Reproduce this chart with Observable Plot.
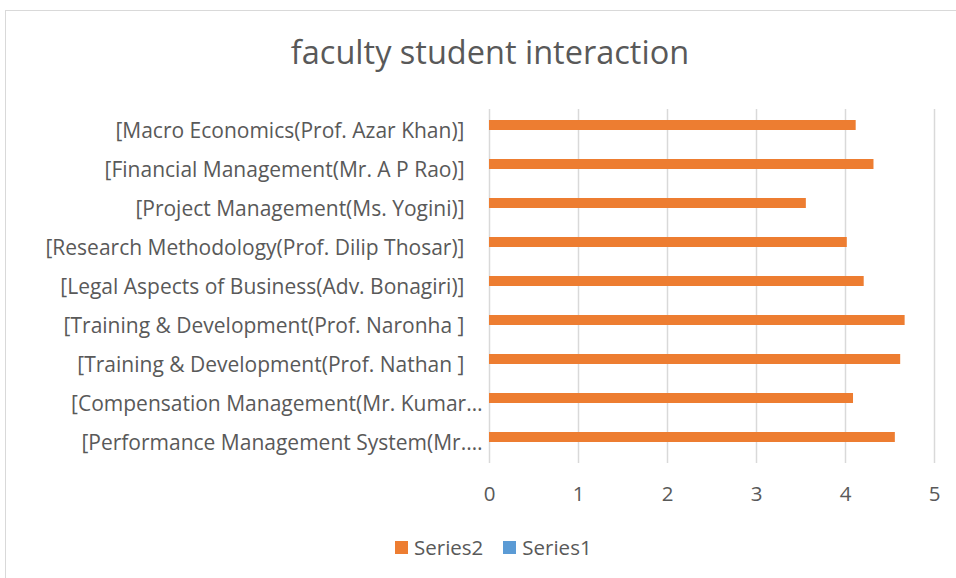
<!DOCTYPE html>
<html>
<head>
<meta charset="utf-8">
<script src="https://cdn.jsdelivr.net/npm/d3@7"></script>
<script src="https://cdn.jsdelivr.net/npm/@observablehq/plot@0.6"></script>
<style>
  html, body { margin: 0; padding: 0; background: #fff; overflow: hidden; }
  #wrap { position: relative; width: 956px; height: 578px; font-family: "Open Sans", Lato, sans-serif; color: #595959; }
  #frame { position: absolute; left: 5px; top: 10px; width: 1000px; height: 600px; border: 1.5px solid #d9d9d9; box-sizing: border-box; }
  #title { position: absolute; left: 0; width: 980px; top: 32px; text-align: center; font-size: 32.5px; line-height: 40px; }
  #chart { position: absolute; left: 0; top: 0; }
  #legend { position: absolute; left: 395px; top: 535px; font-size: 20.5px; line-height: 24px; display: flex; align-items: center; }
  .sw { display: inline-block; width: 13px; height: 13px; margin-right: 6px; }
  .item { display: flex; align-items: center; margin-right: 20px; }
</style>
</head>
<body>
<div id="wrap">
  <div id="frame"></div>
  <div id="title">faculty student interaction</div>
  <div id="chart"></div>
  <div id="legend"></div>
</div>
<script>
// Categories, top to bottom as shown
const categories = [
  "[Macro Economics(Prof. Azar Khan)]",
  "[Financial Management(Mr. A P Rao)]",
  "[Project Management(Ms. Yogini)]",
  "[Research Methodology(Prof. Dilip Thosar)]",
  "[Legal Aspects of Business(Adv. Bonagiri)]",
  "[Training & Development(Prof. Naronha ]",
  "[Training & Development(Prof. Nathan ]",
  "[Compensation Management(Mr. Kumar…",
  "[Performance Management System(Mr.…"
];
const series2 = [4.12, 4.32, 3.56, 4.02, 4.21, 4.67, 4.62, 4.09, 4.56];
const series1 = [0, 0, 0, 0, 0, 0, 0, 0, 0];
const xTicks = [0, 1, 2, 3, 4, 5];
const seriesNames = ["Series2", "Series1"];
const seriesColors = ["#ED7D31", "#5B9BD5"];

const rows = categories.map((c, i) => ({category: c, series2: series2[i], series1: series1[i]}));
const truncated = rows.filter(d => d.category.endsWith("…"));
const full = rows.filter(d => !d.category.endsWith("…"));

const chart = Plot.plot({
  width: 956,
  height: 520,
  marginTop: 109,
  marginBottom: 57,
  marginLeft: 489,
  marginRight: 22,
  style: {fontFamily: "'Open Sans', Lato, sans-serif", fontSize: "20px", color: "#595959", background: "transparent"},
  x: {domain: [0, 5], ticks: xTicks},
  y: {domain: categories, padding: 0, axis: null},
  marks: [
    Plot.gridX(xTicks, {stroke: "#d9d9d9", strokeOpacity: 1, strokeWidth: 1.5}),
    Plot.axisX({ticks: xTicks, tickFormat: d3.format("d"), tickSize: 0, tickPadding: 23, label: null, fontSize: 20.5}),
    Plot.barX(rows, {x: "series2", y: "category", fill: seriesColors[0], insetTop: 9, insetBottom: 20}),
    Plot.barX(rows, {x: "series1", y: "category", fill: seriesColors[1], insetTop: 19, insetBottom: 10}),
    Plot.text(full, {y: "category", text: "category", frameAnchor: "left", textAnchor: "end", dx: -25, fontSize: 21, fill: "#595959"}),
    Plot.text(truncated, {y: "category", text: "category", frameAnchor: "left", textAnchor: "end", dx: -7, fontSize: 21, fill: "#595959"})
  ]
});
document.getElementById("chart").appendChild(chart);

const legend = document.getElementById("legend");
seriesNames.forEach((name, i) => {
  const item = document.createElement("div");
  item.className = "item";
  const sw = document.createElement("span");
  sw.className = "sw";
  sw.style.background = seriesColors[i];
  item.appendChild(sw);
  item.appendChild(document.createTextNode(name));
  legend.appendChild(item);
});
</script>
</body>
</html>
